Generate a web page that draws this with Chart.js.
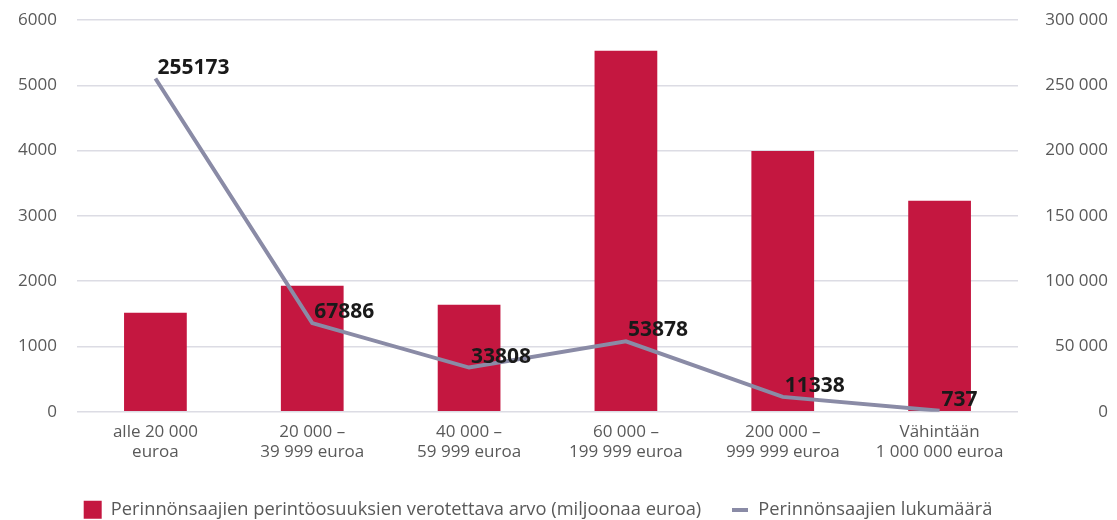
<!DOCTYPE html>
<html>
<head>
<meta charset="utf-8">
<script src="https://cdn.jsdelivr.net/npm/chart.js@4.4.1/dist/chart.umd.min.js"></script>
<style>
    html, body { margin: 0; padding: 0; background: #fff; }
    #wrap { width: 1117px; height: 520px; }
</style>
</head>
<body>
<div id="wrap"><canvas id="chart"></canvas></div>
<script>
var categories = [
    ['alle 20 000', 'euroa'],
    ['20 000 \u2013', '39 999 euroa'],
    ['40 000 \u2013', '59 999 euroa'],
    ['60 000 \u2013', '199 999 euroa'],
    ['200 000 \u2013', '999 999 euroa'],
    ['V\u00e4hint\u00e4\u00e4n', '1 000 000 euroa']
];
var taxableValue = [1515, 1930, 1640, 5530, 3995, 3230];
var heirCount = [255173, 67886, 33808, 53878, 11338, 737];
var leftTicks = [0, 1000, 2000, 3000, 4000, 5000, 6000];
var rightTicks = [0, 50000, 100000, 150000, 200000, 250000, 300000];

var barLabel = 'Perinn\u00f6nsaajien perint\u00f6osuuksien verotettava arvo (miljoonaa euroa)';
var lineLabel = 'Perinn\u00f6nsaajien lukum\u00e4\u00e4r\u00e4';

var FONT = '"Open Sans", "DejaVu Sans", sans-serif';
var textColor = '#595959';
var gridColor = '#dcdce4';
var barColor = '#c41740';
var lineColor = '#8a8ba6';

function spaced(v) {
    return String(v).replace(/\B(?=(\d{3})+(?!\d))/g, ' ');
}

// short thick dash used as the line series legend symbol
var lineSwatch = document.createElement('canvas');
lineSwatch.width = 16;
lineSwatch.height = 4;
(function () {
    var c = lineSwatch.getContext('2d');
    c.fillStyle = lineColor;
    c.fillRect(0, 0, 16, 4);
})();

// bold counts written just above-right of each line point
var lineValueLabels = {
    id: 'lineValueLabels',
    afterDatasetsDraw: function (chart) {
        var meta = chart.getDatasetMeta(1);
        var ctx = chart.ctx;
        ctx.save();
        ctx.font = 'bold 21px ' + FONT;
        ctx.fillStyle = '#1a1a1a';
        ctx.textAlign = 'left';
        ctx.textBaseline = 'alphabetic';
        meta.data.forEach(function (pt, i) {
            ctx.fillText(String(heirCount[i]), pt.x + 2, pt.y - 5);
        });
        ctx.restore();
    }
};

// nudge the legend row a little to the left
var legendShift = {
    id: 'legendShift',
    afterLayout: function (chart) {
        if (chart.legend) chart.legend.right -= 32;
    }
};

var ctx = document.getElementById('chart').getContext('2d');
new Chart(ctx, {
    data: {
        labels: categories,
        datasets: [{
            type: 'bar',
            label: barLabel,
            data: taxableValue,
            yAxisID: 'y',
            backgroundColor: barColor,
            barPercentage: 0.8,
            categoryPercentage: 0.5,
            pointStyle: 'rect',
            order: 2
        }, {
            type: 'line',
            label: lineLabel,
            data: heirCount,
            yAxisID: 'y1',
            borderColor: lineColor,
            backgroundColor: lineColor,
            borderWidth: 4,
            pointRadius: 0,
            tension: 0,
            pointStyle: lineSwatch,
            order: 1
        }]
    },
    options: {
        responsive: true,
        maintainAspectRatio: false,
        animation: false,
        layout: { padding: { top: -1, bottom: -9, right: 9, left: 0 } },
        plugins: {
            tooltip: { enabled: false },
            legend: {
                position: 'bottom',
                labels: {
                    usePointStyle: true,
                    boxHeight: 18,
                    boxWidth: 18,
                    padding: 30,
                    color: textColor,
                    font: { family: FONT, size: 18.3, lineHeight: 1 },
                    sort: function (a, b) { return a.datasetIndex - b.datasetIndex; }
                }
            }
        },
        scales: {
            x: {
                grid: { display: false },
                border: { display: false },
                ticks: {
                    color: textColor,
                    font: { family: FONT, size: 17, lineHeight: 1.15 },
                    maxRotation: 0,
                    padding: 3
                },
                afterFit: function (s) { s.height = 59; }
            },
            y: {
                position: 'left',
                min: 0,
                max: 6000,
                afterBuildTicks: function (s) {
                    s.ticks = leftTicks.map(function (v) { return { value: v }; });
                },
                grid: { color: gridColor, lineWidth: 1.5, drawTicks: false },
                border: { display: false },
                ticks: {
                    color: textColor,
                    font: { family: FONT, size: 17 },
                    padding: 20,
                    callback: function (v) { return String(v); }
                },
                afterFit: function (s) { s.width = 77; s.paddingTop = 20; }
            },
            y1: {
                position: 'right',
                min: 0,
                max: 300000,
                afterBuildTicks: function (s) {
                    s.ticks = rightTicks.map(function (v) { return { value: v }; });
                },
                grid: { drawOnChartArea: false, drawTicks: false },
                border: { display: false },
                ticks: {
                    color: textColor,
                    font: { family: FONT, size: 17 },
                    crossAlign: 'far',
                    callback: function (v) { return spaced(v); }
                },
                afterFit: function (s) { s.width = 90; s.paddingTop = 20; }
            }
        }
    },
    plugins: [lineValueLabels, legendShift]
});
</script>
</body>
</html>
